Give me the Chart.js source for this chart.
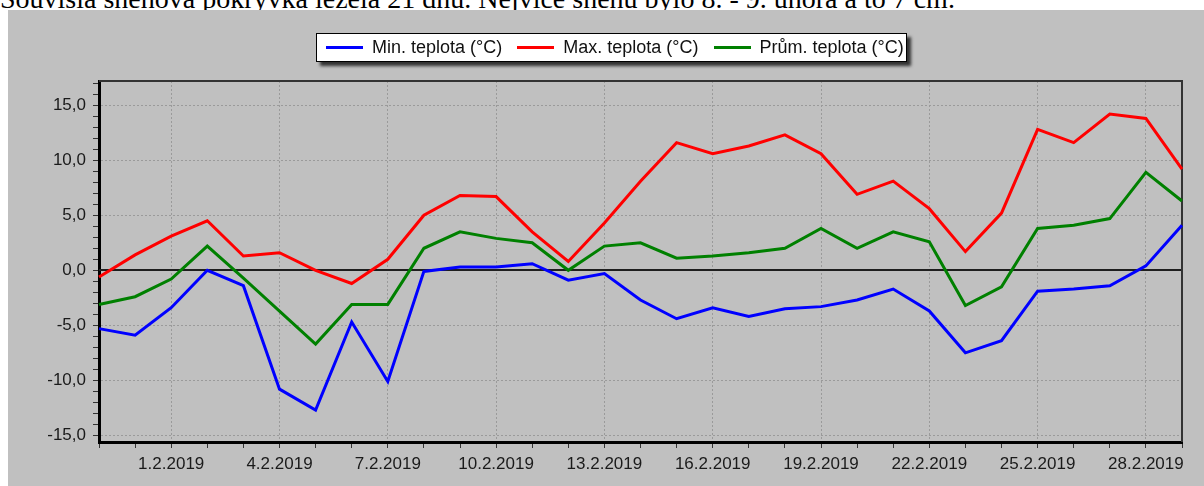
<!DOCTYPE html>
<html>
<head>
<meta charset="utf-8">
<script src="https://cdn.jsdelivr.net/npm/chart.js@4/dist/chart.umd.min.js"></script>
<style>
  body { margin: 0; background: #fff; width: 1204px; height: 486px; overflow: hidden; position: relative; }
  #note { position: absolute; left: 0; top: -17px; font: 28px 'Liberation Serif', 'Times New Roman', serif; white-space: nowrap; color: #000; }
  #panel { position: absolute; left: 8px; top: 10px; width: 1196px; height: 476px; background: #c0c0c0; }
  #legend { position: absolute; left: 308px; top: 23px; height: 27px; width: 580px; background: #fff;
            border: 1px solid #000; box-shadow: 4px 4px 3px #333; display: flex; align-items: center;
            font: 18px 'Liberation Sans', Arial, sans-serif; color: #111; padding-left: 9px; box-sizing: content-box;
            white-space: nowrap; overflow: hidden; }
  #legend .item { display: flex; align-items: center; margin-right: 15px; flex-shrink: 0; }
  #legend .line { width: 37px; height: 3px; margin-right: 9px; flex-shrink: 0; }
</style>
</head>
<body>
<div id="note">Souvislá sněhová pokrývka ležela 21 dnů. Nejvíce sněhu bylo 8. - 9. února a to 7 cm.</div>
<div id="panel">
  <canvas id="myChart" width="1196" height="476"></canvas>
  <div id="legend"></div>
</div>
<script>
let dayLabels = [
    '30.1.2019', '31.1.2019', '1.2.2019', '2.2.2019', '3.2.2019', '4.2.2019', '5.2.2019', '6.2.2019',
    '7.2.2019', '8.2.2019', '9.2.2019', '10.2.2019', '11.2.2019', '12.2.2019', '13.2.2019', '14.2.2019',
    '15.2.2019', '16.2.2019', '17.2.2019', '18.2.2019', '19.2.2019', '20.2.2019', '21.2.2019', '22.2.2019',
    '23.2.2019', '24.2.2019', '25.2.2019', '26.2.2019', '27.2.2019', '28.2.2019', '1.3.2019'
];
let minTemp = [-5.3, -5.9, -3.4, 0.0, -1.4, -10.8, -12.7, -4.7, -10.1, -0.1, 0.3, 0.3, 0.6, -0.9, -0.3, -2.7,
    -4.4, -3.4, -4.2, -3.5, -3.3, -2.7, -1.7, -3.7, -7.5, -6.4, -1.9, -1.7, -1.4, 0.4, 4.1];
let maxTemp = [-0.6, 1.4, 3.1, 4.5, 1.3, 1.6, 0.0, -1.2, 1.0, 5.0, 6.8, 6.7, 3.5, 0.8, 4.3, 8.1,
    11.6, 10.6, 11.3, 12.3, 10.6, 6.9, 8.1, 5.6, 1.7, 5.2, 12.8, 11.6, 14.2, 13.8, 9.2];
let avgTemp = [-3.1, -2.4, -0.8, 2.2, -0.7, -3.7, -6.7, -3.1, -3.1, 2.0, 3.5, 2.9, 2.5, 0.0, 2.2, 2.5,
    1.1, 1.3, 1.6, 2.0, 3.8, 2.0, 3.5, 2.6, -3.2, -1.5, 3.8, 4.1, 4.7, 8.9, 6.3];
let seriesNames = ['Min. teplota (°C)', 'Max. teplota (°C)', 'Prům. teplota (°C)'];
let seriesColors = ['#0000ff', '#ff0000', '#008000'];

const font = "'Liberation Sans', Arial, sans-serif";

// every 3rd day gets a label + grid line, starting at 1.2.
function isMajorDay(i) {
    return i >= 2 && (i - 2) % 3 === 0;
}

function fmt(v) {
    return v.toFixed(1).replace('.', ',');
}

// zero line + top/right frame of the plot
const framePlugin = {
    id: 'frame',
    beforeDatasetsDraw(chart) {
        let ctx = chart.ctx;
        let a = chart.chartArea;
        let y0 = Math.round(chart.scales.y.getPixelForValue(0));
        ctx.save();
        ctx.strokeStyle = '#1e1e1e';
        ctx.lineWidth = 2;
        ctx.beginPath();
        ctx.moveTo(a.left, y0);
        ctx.lineTo(a.right, y0);
        ctx.stroke();
        ctx.strokeStyle = '#333';
        ctx.beginPath();
        ctx.moveTo(a.left, a.top);
        ctx.lineTo(a.right, a.top);
        ctx.lineTo(a.right, a.bottom);
        ctx.stroke();
        ctx.restore();
    }
};

let ctx = document.getElementById('myChart').getContext('2d');
let myChart = new Chart(ctx, {
    type: 'line',
    data: {
        labels: dayLabels,
        datasets: [minTemp, maxTemp, avgTemp].map((values, i) => ({
            label: seriesNames[i],
            data: values,
            borderColor: seriesColors[i],
            backgroundColor: seriesColors[i],
            borderWidth: 3,
            pointRadius: 0,
            tension: 0,
            fill: false
        }))
    },
    options: {
        responsive: false,
        animation: false,
        devicePixelRatio: 1,
        layout: { padding: { top: 71, right: 22, left: 0, bottom: 0 } },
        plugins: {
            legend: { display: false },
            tooltip: { enabled: false }
        },
        scales: {
            x: {
                type: 'category',
                offset: false,
                afterFit(scale) { scale.height = 44; },
                border: { color: '#000', width: 3, dash: [2, 2] },
                grid: {
                    color: (c) => isMajorDay(c.index) ? '#9a9a9a' : 'rgba(0,0,0,0)',
                    lineWidth: 1,
                    tickLength: 6,
                    tickColor: '#333'
                },
                ticks: {
                    autoSkip: false,
                    maxRotation: 0,
                    padding: 6,
                    color: '#1a1a1a',
                    font: { family: font, size: 17 },
                    callback: function (val, index) {
                        return isMajorDay(index) ? this.getLabelForValue(val) : '';
                    }
                }
            },
            y: {
                min: -15.6,
                max: 17.2,
                afterFit(scale) { scale.width = 91; },
                border: { color: '#000', width: 3, dash: [2, 2] },
                grid: {
                    color: (c) => (c.tick && c.tick.value % 5 === 0 && c.tick.value !== 0) ? '#9a9a9a' : 'rgba(0,0,0,0)',
                    lineWidth: 1,
                    tickLength: 6,
                    tickColor: '#333'
                },
                ticks: {
                    stepSize: 1,
                    includeBounds: false,
                    autoSkip: false,
                    padding: 7,
                    color: '#1a1a1a',
                    font: { family: font, size: 17 },
                    callback: (v) => v % 5 === 0 ? fmt(v) : ''
                }
            }
        }
    },
    plugins: [framePlugin]
});

// legend in a white box, built from the datasets
let legendBox = document.getElementById('legend');
myChart.data.datasets.forEach(ds => {
    let item = document.createElement('div');
    item.className = 'item';
    let line = document.createElement('span');
    line.className = 'line';
    line.style.background = ds.borderColor;
    let text = document.createElement('span');
    text.textContent = ds.label;
    item.appendChild(line);
    item.appendChild(text);
    legendBox.appendChild(item);
});
</script>
</body>
</html>
